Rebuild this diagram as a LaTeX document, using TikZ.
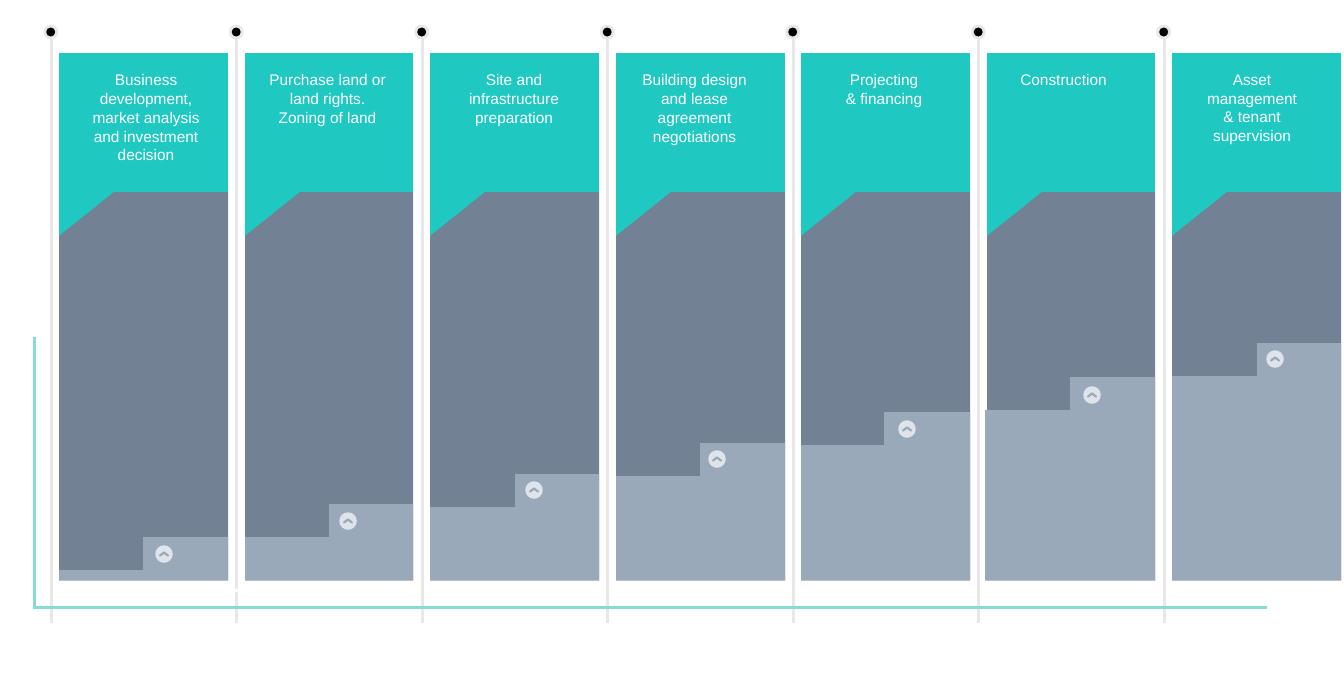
\documentclass[tikz,border=0pt]{standalone}
\usepackage{fontspec}
\setmainfont{Liberation Sans}
\definecolor{tealbox}{HTML}{1FC9C2}
\definecolor{slatedark}{HTML}{728294}
\definecolor{slatelight}{HTML}{9AA9BA}
\definecolor{railgrey}{HTML}{E8E8E8}
\definecolor{tealline}{HTML}{85DCD3}
\definecolor{knob}{HTML}{DFE3EA}
\tikzset{
  x=1pt,y=-1pt,
  rail/.style={draw=railgrey,line width=3pt},
  halo/.style={circle,fill=railgrey,minimum size=14.5pt,inner sep=0pt},
  pin/.style={circle,fill=black,minimum size=9pt,inner sep=0pt},
  headtext/.style={anchor=north,text=white,align=center,inner sep=0pt,font=\fontsize{15.4}{18.7}\selectfont},
  knobstyle/.style={circle,fill=knob,minimum size=17.5pt,inner sep=0pt},
  chev/.style={draw=slatelight,line width=2.2pt,line cap=round,line join=round},
  axisline/.style={draw=tealline,line width=3pt,line join=miter}
}
\begin{document}
\begin{tikzpicture}
\useasboundingbox (0,0) rectangle (1344,691);
\fill[white] (0,0) rectangle (1344,691);
% rails
\foreach \n/\x in {1/51,2/236.5,3/422,4/607.5,5/793,6/978.5,7/1164}{
  \coordinate (railend\n) at (\x,623);
  \node[halo] (halo\n) at ({\x-0.3},32) {};
  \draw[rail] (\x,32) -- (railend\n);
  \node[halo] at ({\x-0.3},32) {};
  \node[pin] (pin\n) at ({\x-0.3},32) {};
}
\fill[white] (233,589) rectangle (240,592);
% columns
\foreach \n/\l/\r/\s/\a/\b/\sl in {
  1/59/228/143/570/537/59,
  2/245/413/329/537/504/245,
  3/430/599/515/507/474/430,
  4/616/785/700/476/443/616,
  5/801/970/884/445/412/801,
  6/987/1155/1070/410/377/985,
  7/1172/1341/1257/376/343/1172}{
  \fill[tealbox] (\l,53) rectangle (\r,240);
  \fill[slatedark] (\l,236) -- ({\l+55},192) -- (\r,192) -- (\r,580) -- (\l,580) -- cycle;
  \fill[slatelight] (\sl,\a) -- (\s,\a) -- (\s,\b) -- (\r,\b) -- (\r,580.5) -- (\sl,580.5) -- cycle;
}
% knobs
\foreach \n/\x/\y in {1/164/554,2/348/521,3/534/490,4/717/459,5/907/429,6/1092/395,7/1275/359}{
  \node[knobstyle] (knob\n) at (\x,\y) {};
  \draw[chev] ({\x-4},{\y+1.5}) -- (\x,{\y-1.5}) -- ({\x+4},{\y+1.5});
}
% axis
\coordinate (axisa) at (34,337);
\coordinate (axisb) at (34,607.5);
\coordinate (axisc) at (1267,607.5);
\draw[axisline] (axisa) -- (axisb) -- (axisc);
% labels
\node[headtext] (t1) at (146,74.6) {Business\\development,\\market analysis\\and investment\\decision};
\node[headtext] (t2) at (327.5,74.6) {Purchase land or\\land rights.\\Zoning of land};
\node[headtext] (t3) at (514,74.6) {Site and\\infrastructure\\preparation};
\node[headtext] (t4) at (694.5,74.6) {Building design\\and lease\\agreement\\negotiations};
\node[headtext] (t5) at (884,74.6) {Projecting\\\& financing};
\node[headtext] (t6) at (1063.5,74.6) {Construction};
\node[headtext] (t7) at (1252,74.6) {Asset\\management\\\& tenant\\supervision};
\end{tikzpicture}
\end{document}
